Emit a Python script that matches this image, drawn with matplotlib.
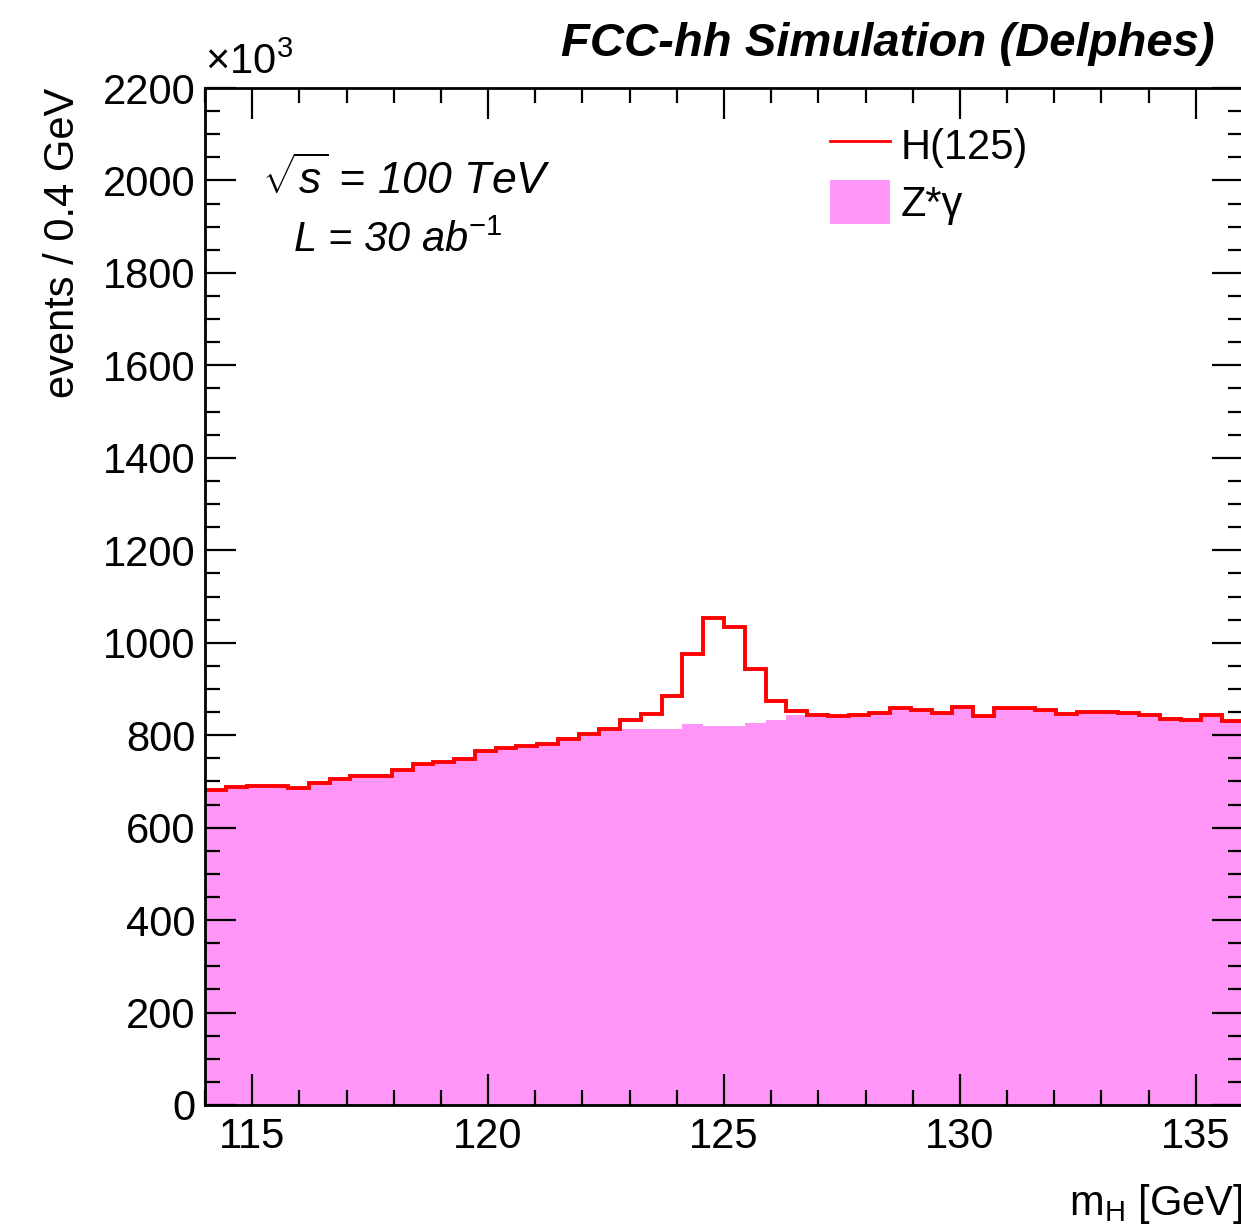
import numpy as np
import matplotlib
matplotlib.use("Agg")
import matplotlib.pyplot as plt
from matplotlib.ticker import MultipleLocator
from matplotlib.lines import Line2D
from matplotlib.patches import Patch

plt.rcParams['font.family'] = ['Liberation Sans', 'DejaVu Sans']
plt.rcParams['mathtext.fontset'] = 'custom'
plt.rcParams['mathtext.rm'] = 'Liberation Sans'
plt.rcParams['mathtext.it'] = 'Liberation Sans:italic'

# binning (m_H in GeV)
M_LO, M_HI, N_BINS = 114.0, 136.0, 50

# events per bin, in units of 10^3
bkg_zgamma = [682, 688, 690, 690, 686, 696, 705, 712, 712, 725,
              738, 743, 749, 765, 772, 776, 780, 788, 799, 808,
              813, 813, 814, 824, 819, 819, 826, 833, 844, 842,
              841, 844, 848, 859, 854, 849, 862, 841, 859, 859,
              854, 846, 851, 851, 849, 844, 835, 833, 844, 830]
sig_h125 = [0, 0, 0, 0, 0, 0, 0, 0, 0, 0,
            0, 0, 0, 0, 0, 0, 1, 3, 3, 6,
            20, 33, 71, 152, 234, 216, 117, 42, 9, 2,
            0, 0, 0, 0, 0, 0, 0, 0, 0, 0,
            0, 0, 0, 0, 0, 0, 0, 0, 0, 0]

PINK = '#ff96f7'
RED = '#ff0000'

edges = np.linspace(M_LO, M_HI, N_BINS + 1)
total = np.array(bkg_zgamma) + np.array(sig_h125)

fig = plt.figure(figsize=(12.41, 12.28), dpi=100)
ax = fig.add_axes([205 / 1241, 1 - 1105 / 1228, 1038 / 1241, (1105 - 88) / 1228])

ax.stairs(bkg_zgamma, edges, fill=True, color=PINK, lw=0, zorder=1)
ax.stairs(total, edges, baseline=None, color=RED, lw=2.8, zorder=2)

ax.set_xlim(M_LO, M_HI)
ax.set_ylim(0, 2200)

ax.xaxis.set_major_locator(MultipleLocator(5))
ax.xaxis.set_minor_locator(MultipleLocator(1))
ax.yaxis.set_major_locator(MultipleLocator(200))
ax.yaxis.set_minor_locator(MultipleLocator(50))
ax.tick_params(which='both', direction='in', top=True, right=True,
               color='black', width=1.6, labelsize=30)
ax.tick_params(which='major', length=22)
ax.tick_params(which='minor', length=11)
ax.tick_params(axis='y', which='major', pad=7)
ax.tick_params(axis='x', which='major', pad=9)
for s in ax.spines.values():
    s.set_linewidth(2.0)

ax.set_ylabel('events / 0.4 GeV', fontsize=30, loc='top', labelpad=14)
ax.set_xlabel('m$_{\\mathrm{H}}$ [GeV]', fontsize=30, loc='right', labelpad=18)

ax.text(0.0, 1.005, '×10$^{3}$', transform=ax.transAxes, fontsize=30,
        ha='left', va='bottom')
fig.text(1215 / 1241, 1 - 44 / 1228, 'FCC-hh Simulation (Delphes)',
         fontsize=34, fontweight='bold', fontstyle='italic', ha='right', va='center')

ax.text(0.055, 0.91, r'$\sqrt{s}$ = 100 TeV', transform=ax.transAxes,
        fontsize=32, fontstyle='italic', ha='left', va='center')
ax.text(0.085, 0.85, 'L = 30 ab$^{-1}$', transform=ax.transAxes,
        fontsize=30, fontstyle='italic', ha='left', va='center')

handles = [Line2D([], [], color=RED, lw=2.0),
           Patch(facecolor=PINK, edgecolor='none')]
ax.legend(handles, ['H(125)', 'Z*γ'], loc='upper left',
          bbox_to_anchor=(0.602, 0.966), frameon=False, fontsize=30,
          handlelength=1.45, handleheight=1.25, handletextpad=0.25,
          labelspacing=0.3, borderaxespad=0, borderpad=0)

fig.savefig('out.png', dpi=100)
